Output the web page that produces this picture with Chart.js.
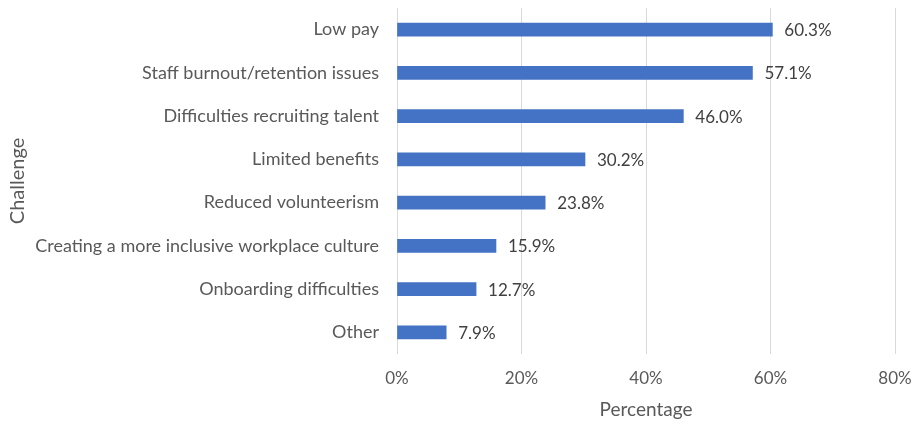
<!DOCTYPE html>
<html>
<head>
<meta charset="utf-8">
<script src="https://cdn.jsdelivr.net/npm/chart.js@4/dist/chart.umd.min.js"></script>
<style>
  html, body { margin: 0; padding: 0; background: #ffffff; }
  #wrap { width: 914px; height: 421px; position: relative; }
</style>
</head>
<body>
<div id="wrap"><canvas id="c"></canvas></div>
<script>
// Workforce challenges reported, share of respondents
const challenges = [
  'Low pay',
  'Staff burnout/retention issues',
  'Difficulties recruiting talent',
  'Limited benefits',
  'Reduced volunteerism',
  'Creating a more inclusive workplace culture',
  'Onboarding difficulties',
  'Other'
];
const percentages = [60.3, 57.1, 46.0, 30.2, 23.8, 15.9, 12.7, 7.9];
const xTicks = [0, 20, 40, 60, 80];

const FONT = "Lato, 'Open Sans', sans-serif";
const TEXT = '#595959';

// Writes each bar's value just past its end
const valueLabels = {
  id: 'valueLabels',
  afterDatasetsDraw(chart) {
    const ctx = chart.ctx;
    const meta = chart.getDatasetMeta(0);
    ctx.save();
    ctx.font = '17px ' + FONT;
    ctx.fillStyle = '#404040';
    ctx.textAlign = 'left';
    ctx.textBaseline = 'middle';
    meta.data.forEach((bar, i) => {
      ctx.fillText(percentages[i].toFixed(1) + '%', bar.x + 12, bar.y + 1);
    });
    ctx.restore();
  }
};

new Chart(document.getElementById('c'), {
  type: 'bar',
  data: {
    labels: challenges,
    datasets: [{
      data: percentages,
      backgroundColor: '#4472c4',
      barThickness: 13
    }]
  },
  options: {
    indexAxis: 'y',
    responsive: true,
    maintainAspectRatio: false,
    animation: false,
    layout: { padding: { top: 8, right: 19, left: 0, bottom: 0 } },
    plugins: { legend: { display: false }, tooltip: { enabled: false } },
    scales: {
      x: {
        min: 0,
        max: 80,
        afterBuildTicks(scale) { scale.ticks = xTicks.map(v => ({ value: v })); },
        afterFit(scale) {
          scale.height = 67;
          scale.paddingLeft = 0;
          scale.paddingRight = 0;
        },
        grid: { color: '#d9d9d9', lineWidth: 1, drawTicks: false },
        border: { display: false },
        ticks: {
          padding: 14,
          color: TEXT,
          font: { family: FONT, size: 17 },
          callback: v => v + '%'
        },
        title: {
          display: true,
          text: 'Percentage',
          color: TEXT,
          font: { family: FONT, size: 19 },
          padding: { top: 2, bottom: 0 }
        }
      },
      y: {
        afterFit(scale) {
          scale.width = 397;
          scale.paddingTop = 0;
          scale.paddingBottom = 0;
        },
        grid: { display: false },
        border: { display: false },
        ticks: {
          padding: 10,
          color: TEXT,
          font: { family: FONT, size: 18 }
        },
        title: {
          display: true,
          text: 'Challenge',
          color: TEXT,
          font: { family: FONT, size: 20 },
          padding: { top: 6, bottom: 0 }
        }
      }
    }
  },
  plugins: [valueLabels]
});
</script>
</body>
</html>
